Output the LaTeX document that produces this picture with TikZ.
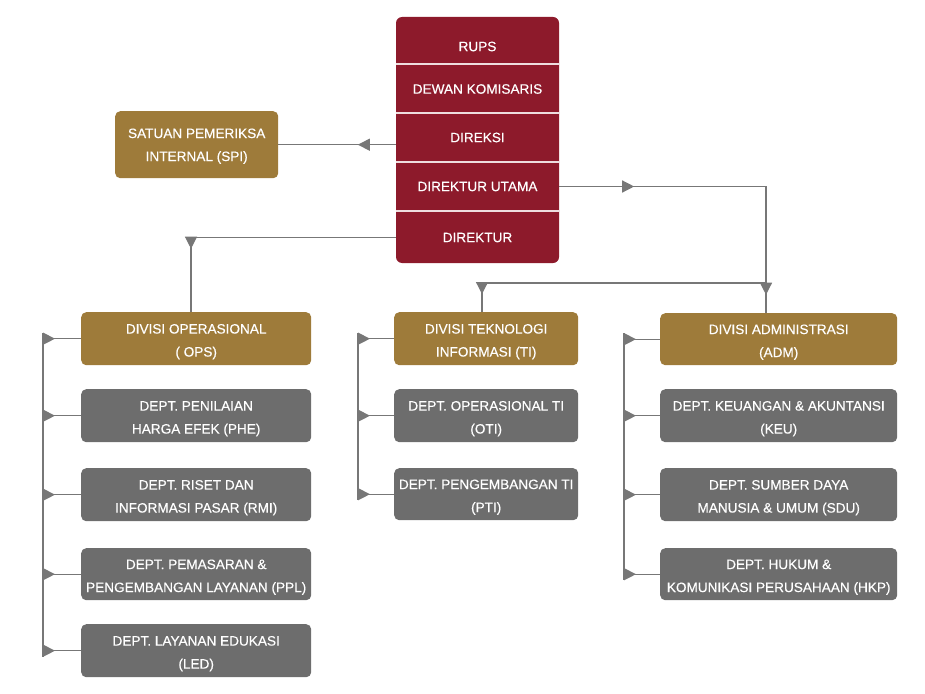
\documentclass[tikz,border=0pt]{standalone}
\usepackage{fontspec}
\setmainfont{Liberation Sans}
\newfontfamily\boxfont[FakeBold=0.35]{Liberation Sans}
\usetikzlibrary{arrows.meta,decorations.markings}
\definecolor{cred}{HTML}{8D1A2B}
\definecolor{cgold}{HTML}{9E7B3A}
\definecolor{cgray}{HTML}{6D6D6D}
\definecolor{cline}{HTML}{777777}
\newcommand\mystrut{\rule{0pt}{15.5pt}}
\begin{document}
\begin{tikzpicture}[x=1pt,y=-1pt,
  box/.style={rounded corners=5pt, inner sep=0pt, align=center, text=white,
    font=\boxfont\fontsize{13.6}{23}\selectfont, anchor=north west},
  div/.style={box, fill=cgold},
  dept/.style={box, fill=cgray},
  row/.style={inner sep=0pt, align=center, text=white, minimum width=163pt,
    font=\boxfont\fontsize{13.6}{23}\selectfont},
  tri/.tip={Triangle[length=12pt,width=12pt]},
  conn/.style={color=cline, line width=1.3pt},
  mk/.style={postaction={decorate,decoration={markings,
    mark=at position #1 with {\arrow{tri}}}}}
]
\useasboundingbox (0,0) rectangle (925,693);

% top stack
\node[fill=cred, rounded corners=6pt, minimum width=163pt, minimum height=246pt, inner sep=0pt] (stack) at (477.5,140) {};
\node[row, minimum height=36pt] (rups) at (477.5,46.5) {RUPS};
\node[row, minimum height=49pt] (dewan) at (477.5,89) {DEWAN KOMISARIS};
\node[row, minimum height=49pt] (direksi) at (477.5,137.5) {DIREKSI};
\node[row, minimum height=49pt] (utama) at (477.5,186.5) {DIREKTUR UTAMA};
\node[row, minimum height=52pt] (direktur) at (477.5,237.5) {DIREKTUR};
\foreach \y in {64,113,162,211}
  \draw[white!85!cred, line width=1.4pt] (stack.west |- 0,\y) -- (stack.east |- 0,\y);

% SPI
\node[div, minimum width=163pt, minimum height=67pt] (spi) at (115,111) {\rule{0pt}{12.5pt}SATUAN PEMERIKSA\\INTERNAL (SPI)};

% left column
\node[div, minimum width=230pt, minimum height=53pt] (ops) at (81,312) {\mystrut DIVISI OPERASIONAL\\( OPS)};
\node[dept, minimum width=230pt, minimum height=53pt] (phe) at (81,389) {\mystrut DEPT. PENILAIAN\\HARGA EFEK (PHE)};
\node[dept, minimum width=230pt, minimum height=53pt] (rmi) at (81,468) {\mystrut DEPT. RISET DAN\\INFORMASI PASAR (RMI)};
\node[dept, minimum width=230pt, minimum height=52pt] (ppl) at (81,548) {\mystrut DEPT. PEMASARAN \&\\PENGEMBANGAN LAYANAN (PPL)};
\node[dept, minimum width=230pt, minimum height=53pt] (led) at (81,624) {\mystrut DEPT. LAYANAN EDUKASI\\(LED)};

% middle column
\node[div, minimum width=184pt, minimum height=53pt] (ti) at (394,312) {\mystrut DIVISI TEKNOLOGI\\INFORMASI (TI)};
\node[dept, minimum width=184pt, minimum height=53pt] (oti) at (394,389) {\mystrut DEPT. OPERASIONAL TI\\(OTI)};
\node[dept, minimum width=184pt, minimum height=52pt] (pti) at (394,468) {\mystrut DEPT. PENGEMBANGAN TI\\(PTI)};

% right column
\node[div, minimum width=237pt, minimum height=52pt] (adm) at (660,313) {\mystrut DIVISI ADMINISTRASI\\(ADM)};
\node[dept, minimum width=237pt, minimum height=53pt] (keu) at (660,389) {\mystrut DEPT. KEUANGAN \& AKUNTANSI\\(KEU)};
\node[dept, minimum width=237pt, minimum height=53pt] (sdu) at (660,468) {\mystrut DEPT. SUMBER DAYA\\MANUSIA \& UMUM (SDU)};
\node[dept, minimum width=237pt, minimum height=52pt] (hkp) at (660,548) {\mystrut DEPT. HUKUM \&\\KOMUNIKASI PERUSAHAAN (HKP)};

% connection points
\coordinate (opsin) at (191,312);
\coordinate (tiin) at (482,312);
\coordinate (admin) at (766,313);
\coordinate (jn) at (766,283);
\coordinate (lt) at (43,0);
\coordinate (mt) at (358,0);
\coordinate (rt) at (624,0);

% top connectors
\draw[conn, mk=38pt] (spi.east -| direksi.west) -- (spi.east);
\draw[conn, mk=216pt] (direktur.west) -| (opsin);
\draw[conn, mk=75pt, mk=315pt] (utama.east) -| (admin);
\draw[conn, mk=295pt] (jn) -| (tiin);

% trunks
\draw[conn] ([yshift=6pt]ops.west -| lt) -- ([yshift=-6pt]led.west -| lt);
\draw[conn] ([yshift=6pt]ti.west -| mt) -- ([yshift=-6pt]pti.west -| mt);
\draw[conn] ([yshift=6pt]adm.west -| rt) -- ([yshift=-6pt]hkp.west -| rt);

% branches
\foreach \n in {ops,phe,rmi,ppl,led}
  \draw[conn, mk=12pt] (\n.west -| lt) -- (\n.west);
\foreach \n in {ti,oti,pti}
  \draw[conn, mk=12pt] (\n.west -| mt) -- (\n.west);
\foreach \n in {adm,keu,sdu,hkp}
  \draw[conn, mk=12pt] (\n.west -| rt) -- (\n.west);
\end{tikzpicture}
\end{document}
